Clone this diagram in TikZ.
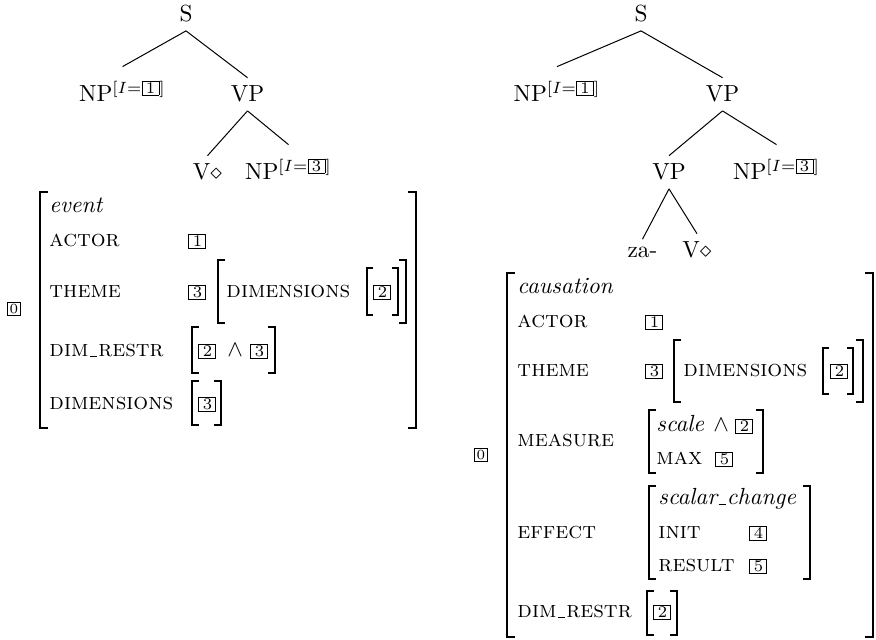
\documentclass[tikz,border=0pt]{standalone}
% boxed tags used as feature-structure indices
\newcommand\bxv[1]{{\setlength\fboxsep{0.5pt}\setlength\fboxrule{0.4pt}\fbox{\makebox[5.9pt]{\scriptsize #1}}}}
\newcommand\bxt[1]{{\setlength\fboxsep{0.7pt}\setlength\fboxrule{0.4pt}\fbox{\makebox[3.6pt]{\fontsize{6}{7}\selectfont #1}}}}
% baseline underscore, as in OT1 fonts
\newcommand\avmus{\kern.06em\rule{.3em}{.4pt}\kern.06em}
% square brackets: x, top, bottom, tick, style
\newcommand\avmlb[5]{\draw[#5] (#1+#4,#2) -- (#1,#2) -- (#1,#3) -- (#1+#4,#3);}
\newcommand\avmrb[5]{\draw[#5] (#1-#4,#2) -- (#1,#2) -- (#1,#3) -- (#1-#4,#3);}
\begin{document}
\begin{tikzpicture}[x=0.429pt,y=-0.429pt,
  tn/.style={anchor=base,inner xsep=0pt,inner ysep=3.4pt},
  tnp/.style={tn,inner ysep=5.8pt},
  edge/.style={line width=0.43pt},
  lab/.style={anchor=base west,inner sep=0pt},
  tagn/.style={inner sep=0pt},
  bigbr/.style={line width=0.8pt},
  smbr/.style={line width=0.5pt}]
\useasboundingbox (0,0) rectangle (876,640);

% ---------- left tree ----------
\node[tn]  (lS)   at (186,22)    {S};
\node[tnp] (lNP1) at (122.5,102) {NP$^{[I=\bxv{1}]}$};
\node[tn]  (lVP)  at (247.5,102) {VP};
\node[tn]  (lV)   at (207.5,180) {V$\diamond$};
\node[tnp] (lNP3) at (288.5,180) {NP$^{[I=\bxv{3}]}$};
\draw[edge] (lS.south) -- (lNP1.north);
\draw[edge] (lS.south) -- (lVP.north);
\draw[edge] (lVP.south) -- (lV.north);
\draw[edge] (lVP.south) -- (lNP3.north);

% ---------- left feature structure ----------
\node[tagn] (lTag) at (14,309) {\bxt{0}};
\avmlb{40}{192}{428}{8}{bigbr}
\avmrb{416}{192}{428}{8}{bigbr}
\node[lab] (lEv)   at (49,213)  {\textit{event}};
\node[lab] (lActK) at (49,247)  {\textsc{actor}};
\node[lab] (lActV) at (188,247) {\bxv{1}};
\node[lab] (lThK)  at (49,298)  {\textsc{theme}};
\node[lab] (lThV)  at (188,298) {\bxv{3}};
\avmlb{218}{260}{323}{7}{smbr}
\node[lab] (lThD)  at (226,298) {\textsc{dimensions}};
\avmlb{367}{268}{315}{6}{smbr}
\node[lab] (lThD2) at (373,298) {\bxv{2}};
\avmrb{398}{268}{315}{6}{smbr}
\avmrb{406}{260}{323}{7}{smbr}
\node[lab] (lDrK)  at (49,357)  {\textsc{dim\avmus restr}};
\avmlb{192}{327}{373}{7}{smbr}
\node[lab] (lDrA)  at (198,357) {\bxv{2}};
\node[lab] (lDrW)  at (227,357) {$\wedge$};
\node[lab] (lDrB)  at (250,357) {\bxv{3}};
\avmrb{275}{327}{373}{7}{smbr}
\node[lab] (lDmK)  at (49,410)  {\textsc{dimensions}};
\avmlb{192}{381}{425}{7}{smbr}
\node[lab] (lDmV)  at (198,410) {\bxv{3}};
\avmrb{221}{381}{425}{7}{smbr}

% ---------- right tree ----------
\node[tn]  (rS)   at (641,22)    {S};
\node[tnp] (rNP1) at (557,102)   {NP$^{[I=\bxv{1}]}$};
\node[tn]  (rVP)  at (722.5,102) {VP};
\node[tn]  (rVPb) at (669,180)   {VP};
\node[tnp] (rNP3) at (776.5,180) {NP$^{[I=\bxv{3}]}$};
\node[tn]  (rza)  at (642.5,258) {za-};
\node[tn]  (rV)   at (697,258)   {V$\diamond$};
\draw[edge] (rS.south) -- (rNP1.north);
\draw[edge] (rS.south) -- (rVP.north);
\draw[edge] (rVP.south) -- (rVPb.north);
\draw[edge] (rVP.south) -- (rNP3.north);
\draw[edge] (rVPb.south) -- (rza.north);
\draw[edge] (rVPb.south) -- (rV.north);

% ---------- right feature structure ----------
\node[tagn] (rTag) at (481,455) {\bxt{0}};
\avmlb{507}{273}{637}{8}{bigbr}
\avmrb{873}{273}{637}{8}{bigbr}
\node[lab] (rCa)   at (517,294) {\textit{causation}};
\node[lab] (rActK) at (517,328) {\textsc{actor}};
\node[lab] (rActV) at (645,328) {\bxv{1}};
\node[lab] (rThK)  at (517,377) {\textsc{theme}};
\node[lab] (rThV)  at (645,377) {\bxv{3}};
\avmlb{674}{340}{402}{7}{smbr}
\node[lab] (rThD)  at (683,377) {\textsc{dimensions}};
\avmlb{823}{348}{394}{6}{smbr}
\node[lab] (rThD2) at (830,377) {\bxv{2}};
\avmrb{853}{348}{394}{6}{smbr}
\avmrb{863}{340}{402}{7}{smbr}
\node[lab] (rMeK)  at (517,447) {\textsc{measure}};
\avmlb{649}{410}{473}{7}{smbr}
\node[lab] (rMeS)  at (656,432) {\textit{scale}};
\node[lab] (rMeW)  at (713,432) {$\wedge$};
\node[lab] (rMeB)  at (735,432) {\bxv{2}};
\node[lab] (rMaxK) at (656,465) {\textsc{max}};
\node[lab] (rMaxV) at (715,465) {\bxv{5}};
\avmrb{763}{410}{473}{7}{smbr}
\node[lab] (rEfK)  at (517,539) {\textsc{effect}};
\avmlb{649}{486}{579}{7}{smbr}
\node[lab] (rSc)   at (658,505) {\textit{scalar\avmus change}};
\node[lab] (rInK)  at (658,539) {\textsc{init}};
\node[lab] (rInV)  at (749,539) {\bxv{4}};
\node[lab] (rReK)  at (658,572) {\textsc{result}};
\node[lab] (rReV)  at (749,572) {\bxv{5}};
\avmrb{810}{486}{579}{7}{smbr}
\node[lab] (rDrK)  at (517,618) {\textsc{dim\avmus restr}};
\avmlb{647}{591}{635}{7}{smbr}
\node[lab] (rDrV)  at (653,618) {\bxv{2}};
\avmrb{677}{591}{635}{7}{smbr}
\end{tikzpicture}
\end{document}
